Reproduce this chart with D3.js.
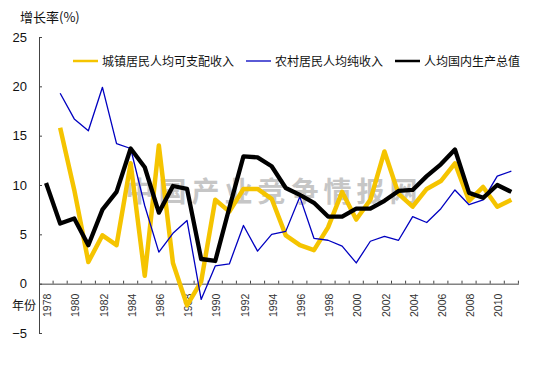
<!DOCTYPE html>
<html><head><meta charset="utf-8">
<script src="https://cdn.jsdelivr.net/npm/d3@7/dist/d3.min.js"></script>
<style>
html,body{margin:0;padding:0;background:#fff;}
svg{display:block;}
text{font-family:"Liberation Sans",Arial,sans-serif;}
.cjk{font-family:"Noto Sans CJK SC","Noto Sans",sans-serif;}
</style></head>
<body>
<svg id="chart" width="556" height="383"></svg>
<script>
const years = d3.range(1978, 2012);
const yTicks = [-5, 0, 5, 10, 15, 20, 25];
const xLabelYears = d3.range(1978, 2011, 2);
const seriesNames = ["城镇居民人均可支配收入", "农村居民人均纯收入", "人均国内生产总值"];
// null = no data
const urban = [null, 15.8, 9.5, 2.2, 4.9, 3.9, 12.2, 0.8, 14.0, 2.1, -2.2, 0.2, 8.5, 7.3, 9.6, 9.6, 8.6, 4.9, 3.9, 3.4, 5.7, 9.3, 6.5, 8.5, 13.4, 9.1, 7.8, 9.6, 10.4, 12.2, 8.4, 9.8, 7.8, 8.5];
const rural = [null, 19.3, 16.7, 15.5, 19.9, 14.2, 13.7, 7.9, 3.2, 5.1, 6.4, -1.6, 1.8, 2.0, 5.9, 3.3, 5.0, 5.3, 8.8, 4.6, 4.4, 3.8, 2.1, 4.3, 4.8, 4.4, 6.8, 6.2, 7.6, 9.5, 8.0, 8.5, 10.9, 11.4];
const gdp = [10.2, 6.1, 6.6, 3.9, 7.5, 9.3, 13.7, 11.8, 7.2, 9.9, 9.6, 2.5, 2.3, 7.7, 12.9, 12.8, 11.9, 9.7, 9.0, 8.2, 6.8, 6.8, 7.6, 7.6, 8.4, 9.4, 9.5, 10.9, 12.1, 13.6, 9.2, 8.7, 10.0, 9.3];
const colors = ["#F5C400", "#0000C0", "#000000"];
const widths = [4.5, 1.3, 4.3];

const svg = d3.select("#chart");
const x = d3.scaleBand().domain(years).range([39, 518.4]).padding(0);
const y = d3.scaleLinear().domain([-5, 25]).range([333, 37]);
const cx = yr => x(yr) + x.bandwidth() / 2;

// watermark
svg.append("text").attr("class", "cjk")
  .attr("x", 274).attr("y", 202)
  .attr("text-anchor", "middle")
  .attr("font-size", 28).attr("font-weight", 700)
  .attr("letter-spacing", 5)
  .attr("fill", "#c6c6c6")
  .text("中国产业竞争情报网");

// y axis
const yAxis = d3.axisLeft(y).tickValues(yTicks).tickSizeInner(-3).tickSizeOuter(0).tickPadding(12);
const gy = svg.append("g").attr("transform", "translate(39,0)").call(yAxis);
gy.select(".domain").attr("stroke", "#444");
gy.selectAll(".tick line").attr("stroke", "#444");
gy.selectAll(".tick text").attr("font-size", 13).attr("fill", "#111")
  .attr("font-family", "Liberation Sans, Arial, sans-serif");

// x axis (line at 0)
const y0 = y(0);
const xAxis = d3.axisBottom(x).tickValues(xLabelYears).tickSize(0).tickPadding(0);
const gx = svg.append("g").attr("transform", `translate(0,${y0})`).call(xAxis);
gx.select(".domain").attr("stroke", "#444");
gx.selectAll(".tick text")
  .attr("font-size", 10.5).attr("fill", "#333")
  .attr("font-family", "Liberation Sans, Arial, sans-serif")
  .attr("text-anchor", "end")
  .attr("transform", "translate(1.5,10) rotate(-90)")
  .attr("x", 0).attr("y", 0).attr("dy", "0.35em");
// boundary tick marks (pointing up)
const bounds = years.map(yr => x(yr)).concat([x(years[years.length - 1]) + x.bandwidth()]);
svg.append("g").selectAll("line").data(bounds.slice(1)).join("line")
  .attr("x1", d => d).attr("x2", d => d)
  .attr("y1", y0).attr("y2", y0 - 3)
  .attr("stroke", "#444");

// series lines
const data = [urban, rural, gdp];
const line = d3.line()
  .defined(d => d.v !== null)
  .x(d => cx(d.yr)).y(d => y(d.v));
data.forEach((arr, i) => {
  svg.append("path")
    .datum(years.map((yr, j) => ({yr, v: arr[j]})))
    .attr("d", line)
    .attr("fill", "none")
    .attr("stroke", colors[i])
    .attr("stroke-width", widths[i])
    .attr("stroke-linejoin", "round");
});

// titles
svg.append("text").attr("class", "cjk").attr("x", 20).attr("y", 22)
  .attr("font-size", 13).attr("fill", "#111").text("增长率(%)");
svg.append("text").attr("class", "cjk").attr("x", 12).attr("y", 310)
  .attr("font-size", 12).attr("fill", "#111").text("年份");

// legend
const legendX = [73, 246, 395];
const legendW = [2.5, 1.3, 2.5];
const lg = svg.append("g");
seriesNames.forEach((name, i) => {
  lg.append("line").attr("x1", legendX[i]).attr("x2", legendX[i] + 25)
    .attr("y1", 61).attr("y2", 61)
    .attr("stroke", colors[i]).attr("stroke-width", legendW[i]);
  lg.append("text").attr("class", "cjk").attr("x", legendX[i] + 29).attr("y", 65.5)
    .attr("font-size", 12).attr("fill", "#111").text(name);
});
</script>
</body></html>
